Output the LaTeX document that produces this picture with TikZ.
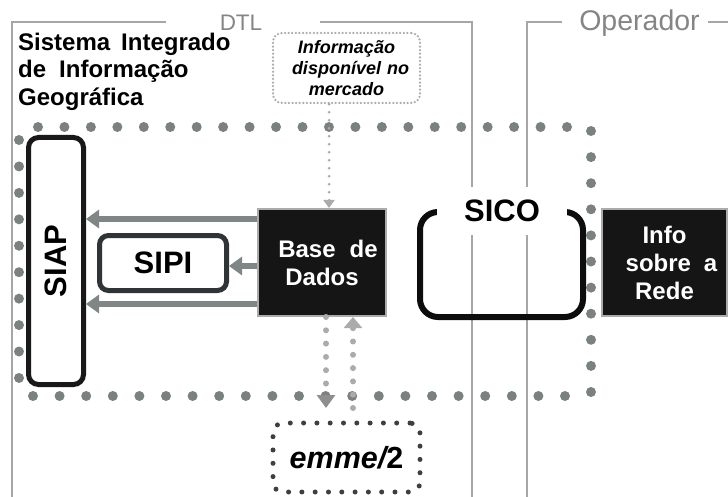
\documentclass[tikz,border=0pt]{standalone}
\usepackage{fontspec}
\setmainfont{Liberation Sans}
\usetikzlibrary{arrows.meta}
\definecolor{framegray}{HTML}{A6A6A6}
\definecolor{labelgray}{HTML}{858585}
\definecolor{bounddot}{HTML}{7B8181}
\definecolor{arrowgray}{HTML}{808686}
\definecolor{lightdot}{HTML}{ABABAB}
\definecolor{tipgray}{HTML}{8E8E8E}
\definecolor{boxfill}{HTML}{151515}
\definecolor{boxedge}{HTML}{ABABAB}
\definecolor{sipigray}{HTML}{2F3437}
\definecolor{emmedot}{HTML}{3F3F3F}
\tikzset{
  frameline/.style={draw=framegray, line width=2pt},
  framelabel/.style={text=labelgray, inner sep=0pt},
  darkbox/.style={draw=boxedge, line width=2pt, fill=boxfill, text=white,
    font=\bfseries\fontsize{24}{28}\selectfont, align=center, inner sep=0pt},
  sysbox/.style={rounded corners=10pt, line width=5pt, fill=white,
    font=\bfseries\fontsize{31}{34}\selectfont, inner sep=0pt},
  fatarrow/.style={draw=arrowgray, line width=6pt, -{Triangle[length=13pt,width=18pt]}},
  dotflow/.style={draw=lightdot, line width=6pt, line cap=round, dash pattern=on 0pt off 13.3pt},
  bigdot/.style={fill=bounddot}
}
\begin{document}
\begin{tikzpicture}[x=1pt,y=-1pt]
\useasboundingbox (0,0) rectangle (728,497);

% frames
\draw[frameline] (166,22) -- (12,22) -- (12,497);
\draw[frameline] (320,22) -- (472,22) -- (472,497);
\draw[frameline] (562,22) -- (527,22) -- (527,497);
\draw[frameline] (708,22) -- (728,22);
\node[framelabel, font=\fontsize{22.5}{26}\selectfont, anchor=base] (dtl) at (241,31) {DTL};
\node[framelabel, font=\fontsize{28.5}{30}\selectfont, anchor=base] (oper) at (639.5,31) {Operador};

% title
\node[anchor=north west, inner sep=0pt, align=left,
      font=\bfseries\fontsize{24}{27.5}\selectfont] (sig) at (18,32.5)
  {Sistema\hspace{11pt}Integrado\\de\hspace{13pt}Informação\\Geográfica};

% dotted boundary
\foreach \i in {0,...,20} \fill[bigdot] (38+26.45*\i,127) circle[radius=5pt];
\foreach \i in {0,...,9}  \fill[bigdot] (19,140+26.44*\i) circle[radius=5pt];
\foreach \i in {0,...,20} \fill[bigdot] (33+26.6*\i,396) circle[radius=5pt];
\foreach \i in {0,...,10} \fill[bigdot] (591,131+26.1*\i) circle[radius=5pt];

% info box
\node[draw=lightdot, line width=2.5pt, line cap=round, dash pattern=on 0pt off 3.6pt,
      rounded corners=9pt, minimum width=147pt, minimum height=70pt, inner sep=0pt,
      align=center, font=\bfseries\itshape\fontsize{18}{21}\selectfont] (info) at (346.5,68)
  {Informação\\\hspace*{8pt}disponível\hspace{6pt}no\\mercado};

% nodes
\node[sysbox, draw=black!90, minimum width=55pt, minimum height=247pt] (siap) at (56,261)
  {\rotatebox{90}{SIAP}};
\node[sysbox, draw=sipigray, rounded corners=9pt, minimum width=127pt, minimum height=55pt] (sipi) at (163,263) {SIPI};
\node[darkbox, minimum width=128pt, minimum height=107pt] (base) at (322,262.5)
  {\hspace*{12pt}Base\hspace{14pt}de\\Dados};
\node[darkbox, minimum width=125pt, minimum height=107pt] (rede) at (664.5,262.5)
  {Info\\\hspace*{14pt}sobre\hspace{13pt}a\\Rede};
\node[draw=emmedot, line width=5pt, line cap=round, dash pattern=on 0pt off 13.3pt,
      rounded corners=10pt, minimum width=147pt, minimum height=69pt, inner sep=0pt,
      font=\fontsize{30.5}{34}\selectfont] (emme) at (346.5,457.5)
  {{\bfseries\itshape emme/}{\bfseries 2}};

% SICO
\draw[black!95, line width=6pt, rounded corners=18pt] (437,212) -| (420,317) -| (583,212) -- (567,212);
\node[fill=white, inner sep=0pt, minimum width=130pt, minimum height=48pt,
      font=\bfseries\fontsize{31}{34}\selectfont] (sico) at (502,211) {SICO};

% arrows
\draw[fatarrow] (base.west |- 0,219) -- (siap.east |- 0,219);
\draw[fatarrow] (base.west |- 0,266) -- (sipi.east |- 0,266);
\draw[fatarrow] (base.west |- 0,304) -- (siap.east |- 0,304);

\draw[draw=lightdot, line width=3pt, line cap=round, dash pattern=on 0pt off 8pt,
      -{Triangle[length=8pt,width=11pt]}] (info.south -| 329,0) -- (base.north -| 329,0);
\draw[dotflow, shorten >=12.5pt, -{Triangle[length=13pt,width=18pt,color=tipgray]}]
  (base.south -| 326,0) -- (emme.north -| 326,0);
\draw[dotflow, shorten <=12.5pt, -{Triangle[length=11pt,width=18pt]}]
  (emme.north -| 353,0) -- (base.south -| 353,0);
\end{tikzpicture}
\end{document}
